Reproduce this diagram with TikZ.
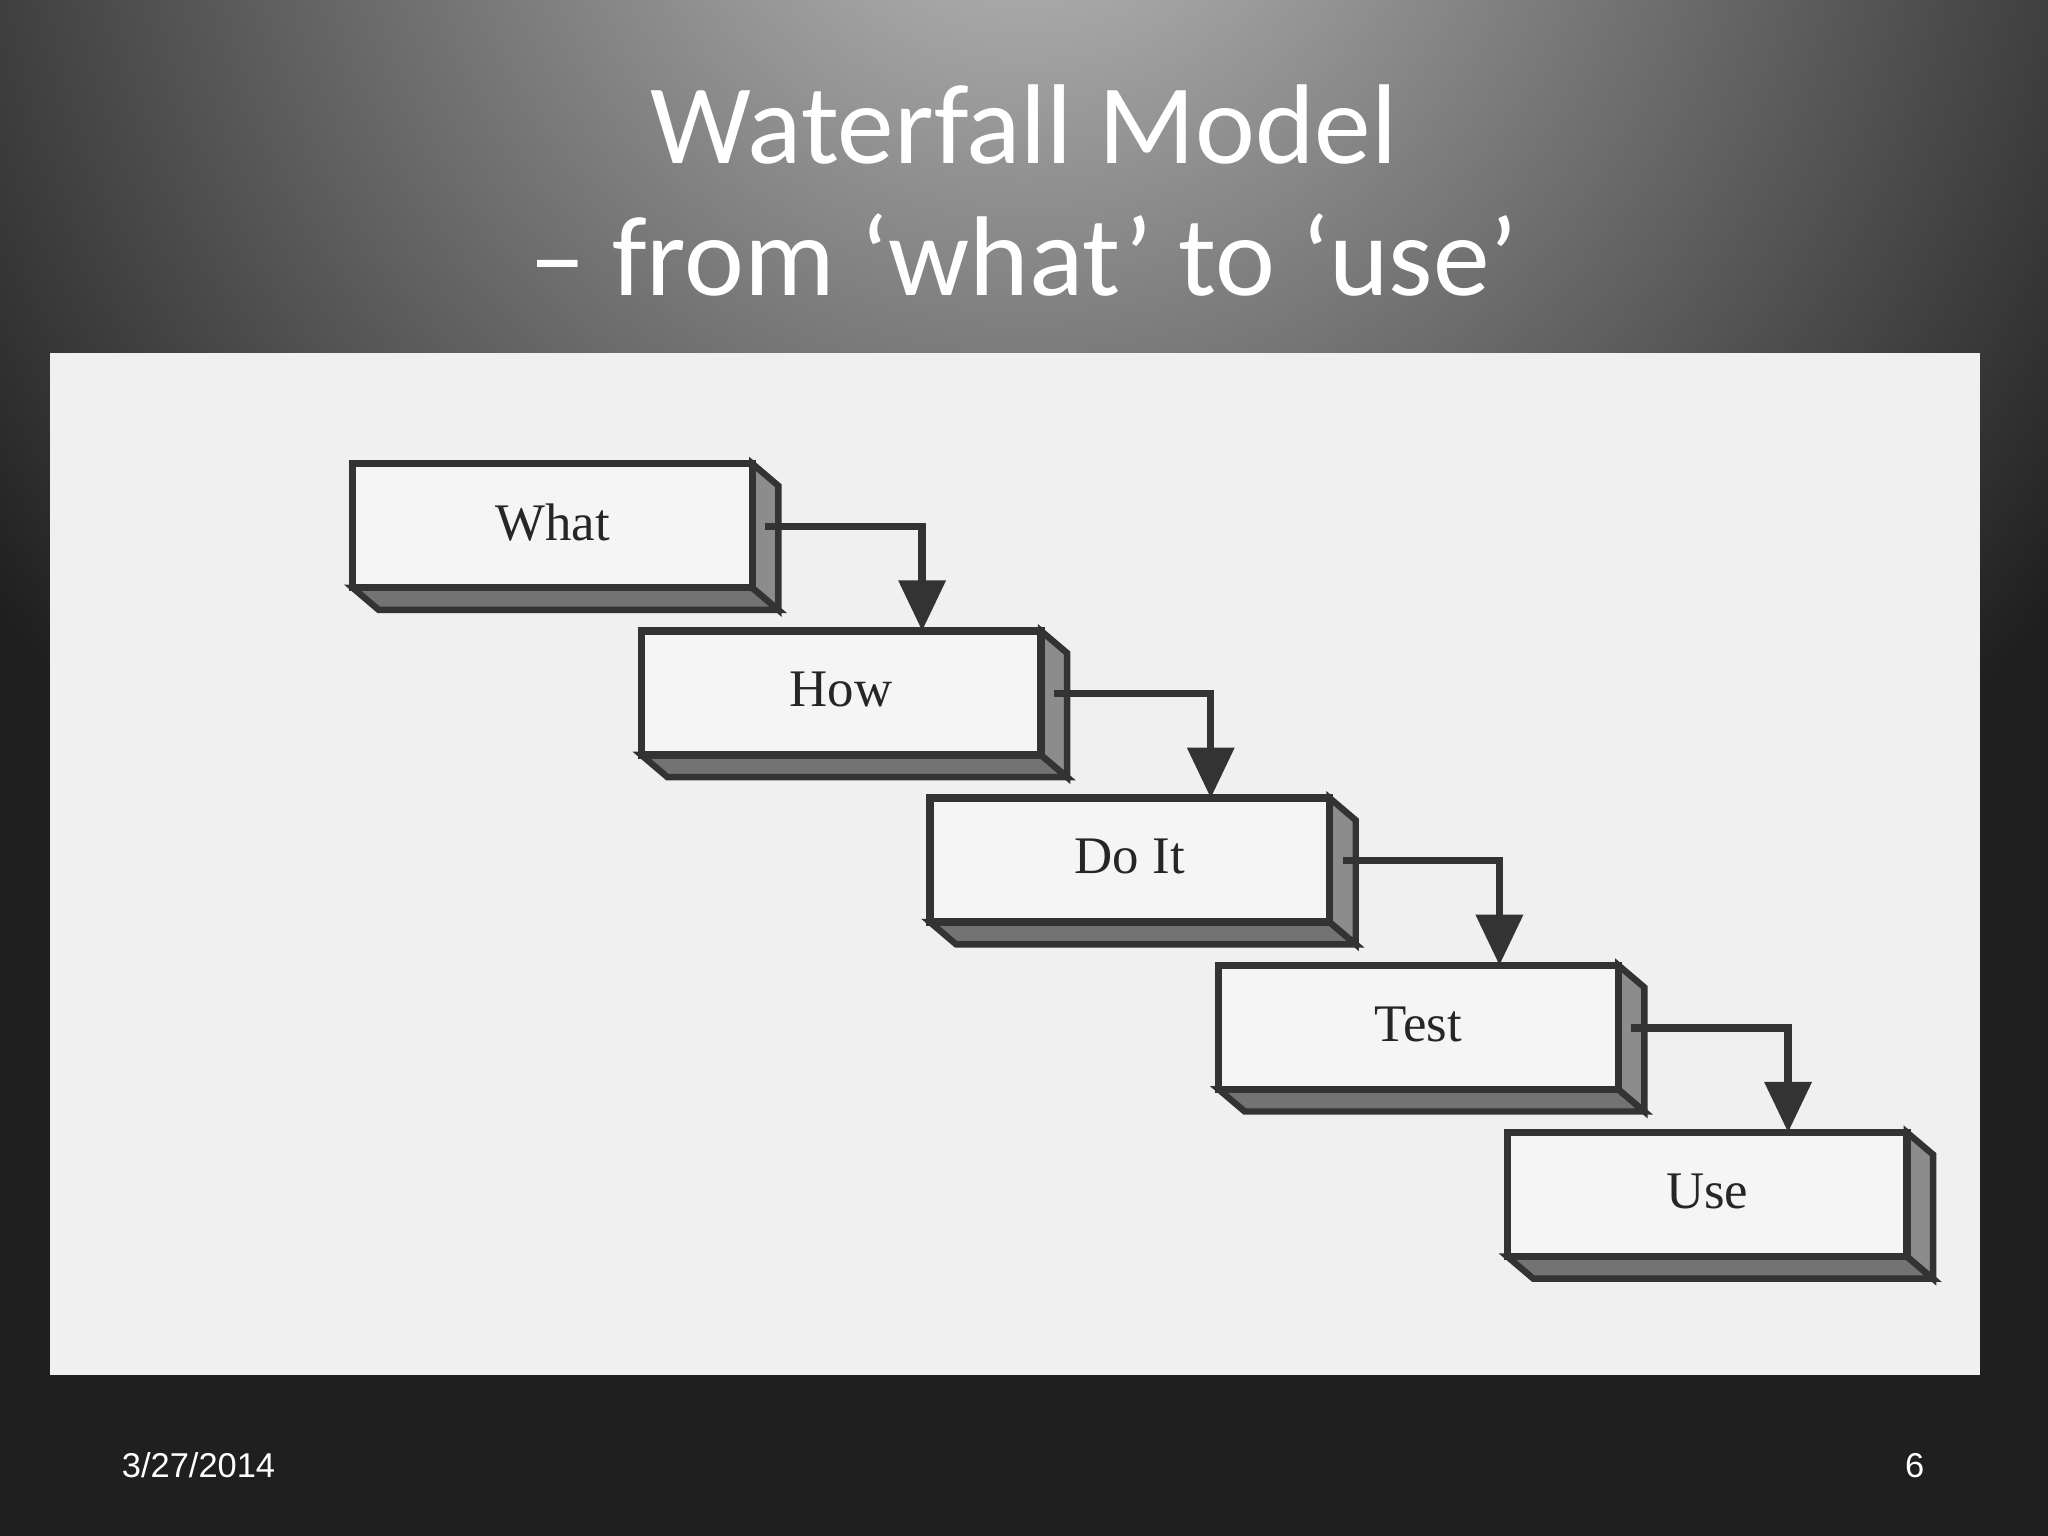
\documentclass[tikz,border=0pt]{standalone}
\usetikzlibrary{arrows.meta}
\usepackage{fontspec}
\setmainfont{Carlito}
\newfontfamily\boxfont{Liberation Serif}
\newfontfamily\footfont{Liberation Sans}
\begin{document}
\begin{tikzpicture}[x=0.01cm,y=-0.01cm,
  front/.style={draw=black!80,line width=1.6pt,fill=black!4},
  sideface/.style={draw=black!80,line width=1.4pt,fill=black!45},
  bottomface/.style={draw=black!80,line width=1.4pt,fill=black!55},
  lbl/.style={font=\boxfont\fontsize{11.5}{14}\selectfont,text=black!85},
  flow/.style={draw=black!80,line width=1.6pt,-{Triangle[length=11pt,width=10pt]}},
  title/.style={font=\fontsize{24.7}{29}\selectfont,text=white}]
\useasboundingbox (0,0) rectangle (1568,1176);
\begin{scope}
\clip (0,0) rectangle (1568,1176);
\fill[black!88] (0,0) rectangle (1568,1176);
\shade[inner color=black!25,outer color=black!88] (784,-150) circle (1000);
\end{scope}
\node[title] (t1) at (784,95) {Waterfall Model};
\node[title] (t2) at (784,195) {– from ‘what’ to ‘use’};
\fill[black!6] (38,270) rectangle (1516,1053);
\foreach \i/\t in {0/What,1/How,2/Do It,3/Test,4/Use}{
  \pgfmathsetmacro{\bx}{270+221*\i}
  \pgfmathsetmacro{\by}{355+128*\i}
  \draw[bottomface] (\bx,\by+95) -- (\bx+306,\by+95) -- (\bx+326,\by+112) -- (\bx+20,\by+112) -- cycle;
  \draw[sideface] (\bx+306,\by) -- (\bx+326,\by+17) -- (\bx+326,\by+112) -- (\bx+306,\by+95) -- cycle;
  \draw[front] (\bx,\by) rectangle (\bx+306,\by+95);
  \node[lbl] (b\i) at (\bx+153,\by+45) {\t};
  \coordinate (r\i) at (\bx+316,\by+48);
  \coordinate (k\i) at (\bx+436,\by+48);
  \coordinate (n\i) at (\bx+436,\by+128);
}
\foreach \i in {0,1,2,3}{
  \draw[flow] (r\i) -- (k\i) -- (n\i);
}
\node[font=\footfont\fontsize{7.5}{9}\selectfont,text=white] (d) at (152,1122) {3/27/2014};
\node[font=\footfont\fontsize{7.5}{9}\selectfont,text=white] (p) at (1466,1122) {6};
\end{tikzpicture}
\end{document}
